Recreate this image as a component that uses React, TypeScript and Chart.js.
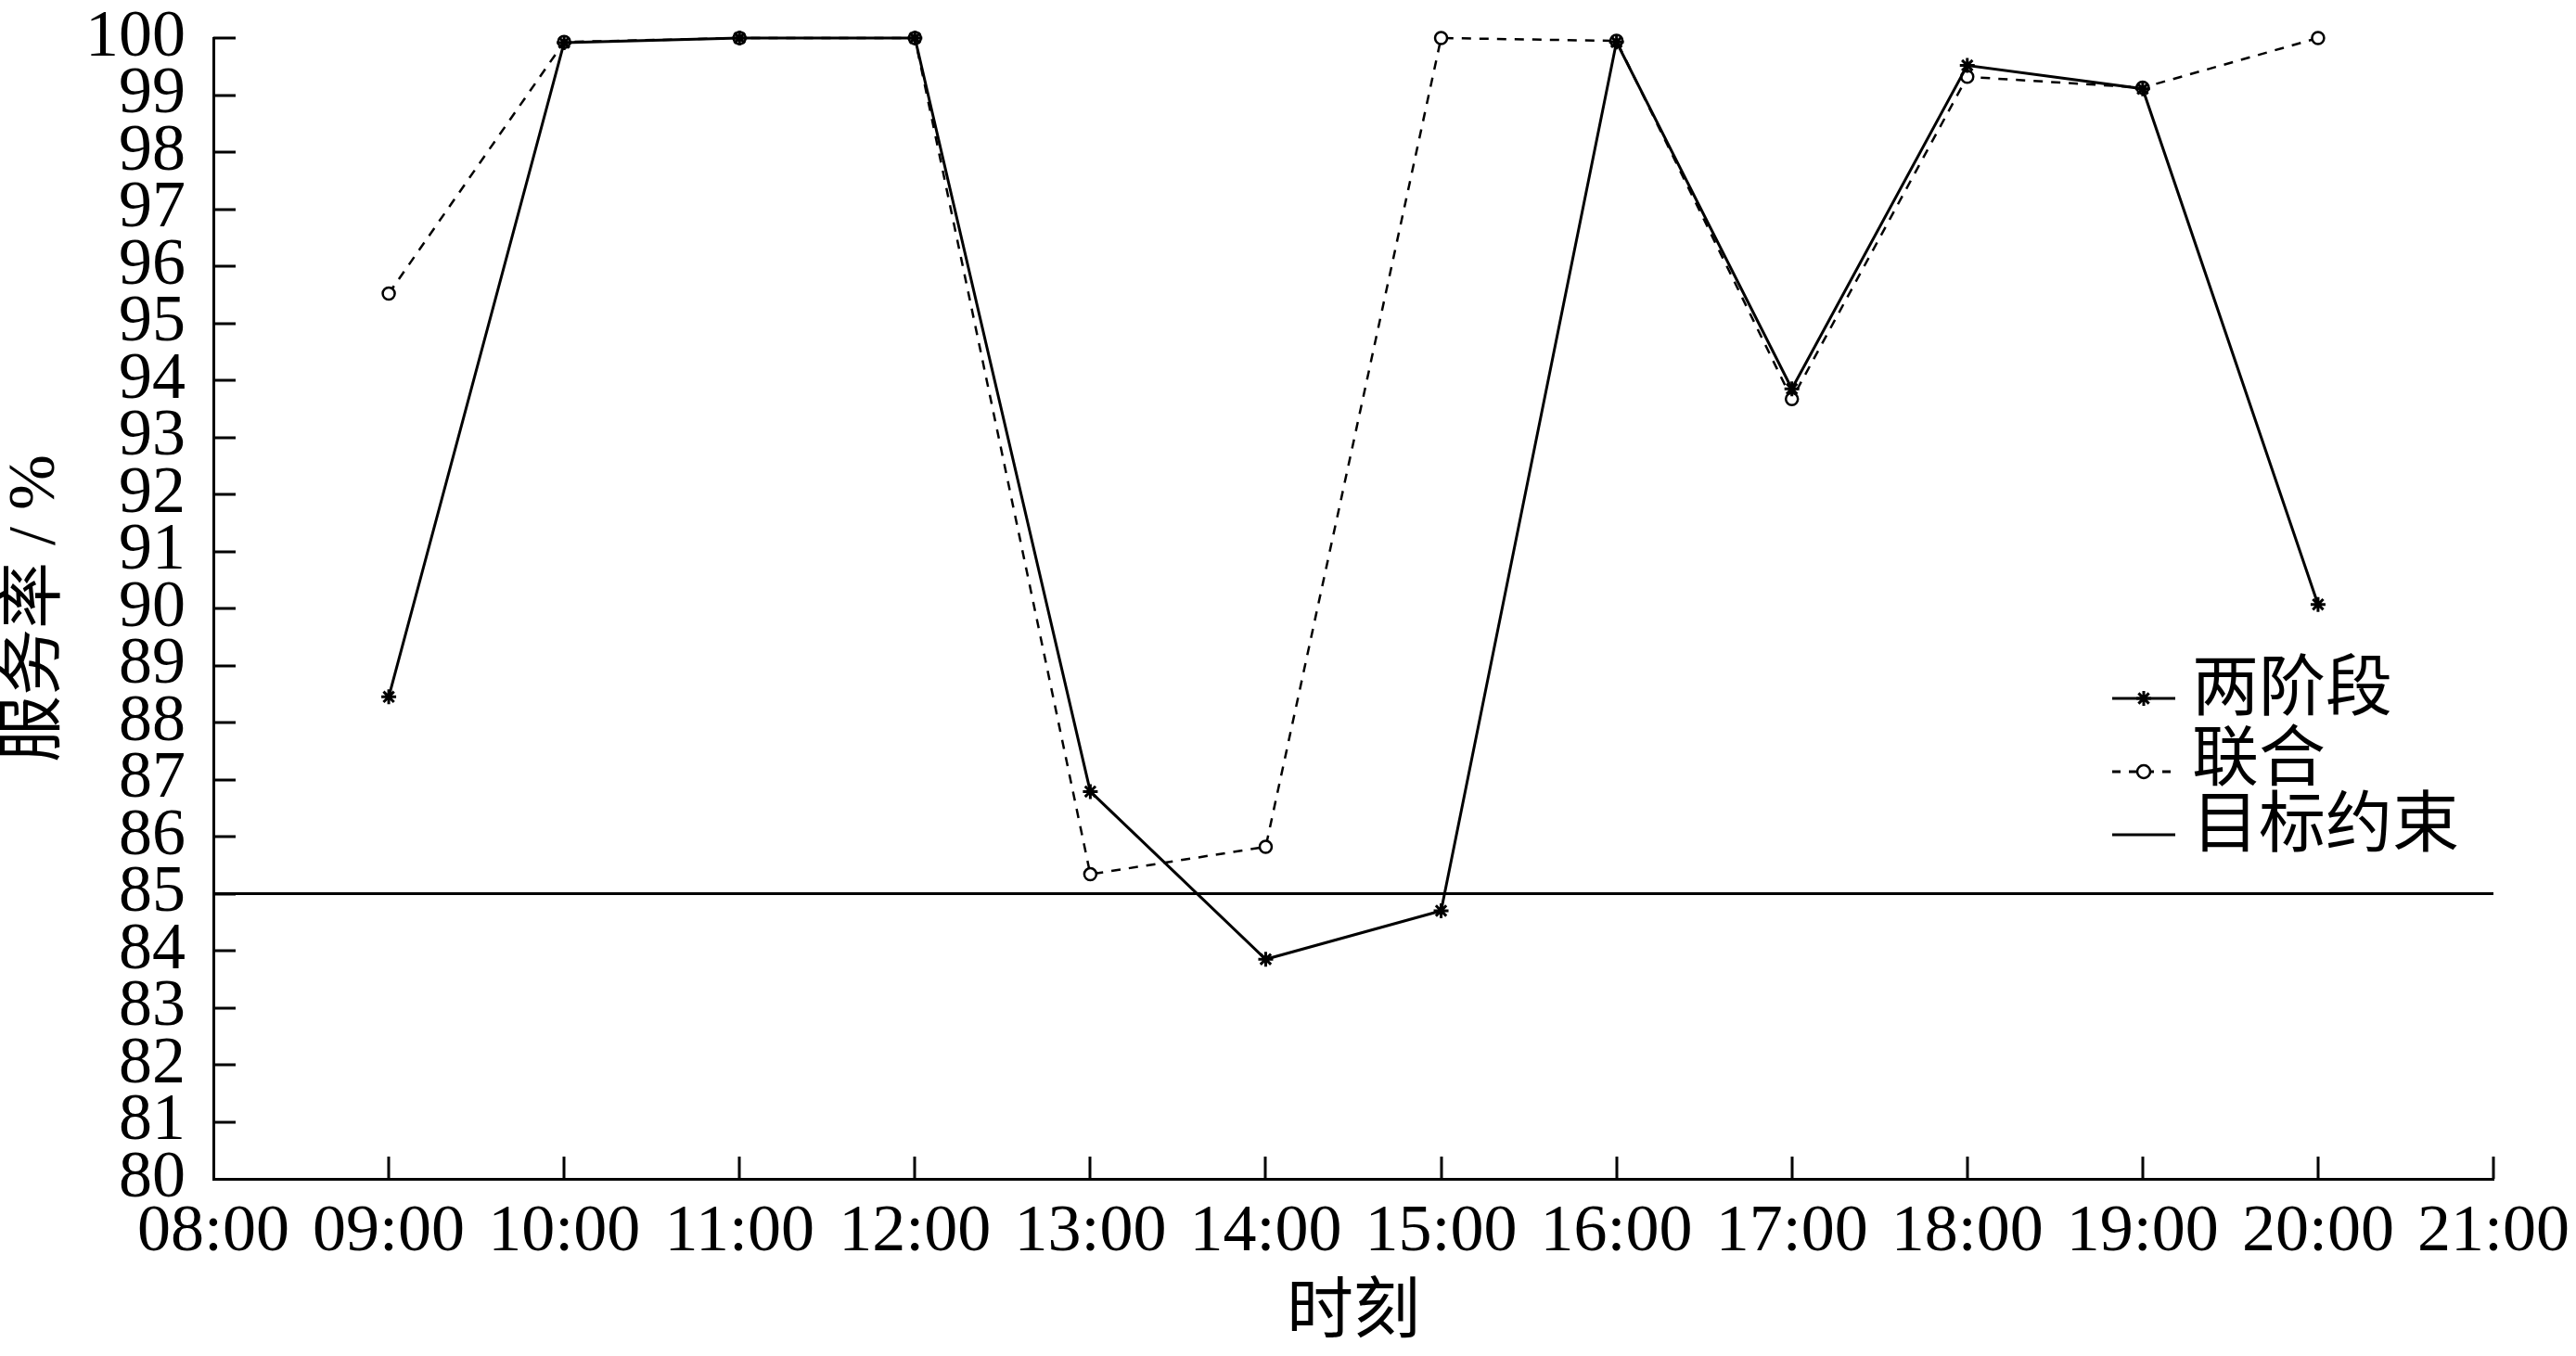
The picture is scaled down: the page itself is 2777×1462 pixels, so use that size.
import React, { useEffect, useRef } from "react";
import { Chart, registerables } from "chart.js";

Chart.register(...registerables);

// ---- data ----
const hours = [9, 10, 11, 12, 13, 14, 15, 16, 17, 18, 19, 20];
const twoStage = [88.45, 99.92, 100, 100, 86.79, 83.85, 84.7, 99.93, 93.85, 99.52, 99.11, 90.07];
const joint = [95.52, 99.93, 100, 100, 85.34, 85.82, 100, 99.95, 93.67, 99.32, 99.13, 100];
const targetHours = [8, 21];
const targetValue = 85;
const seriesNames = ["两阶段", "联合", "目标约束"];
const xTitle = "时刻";
const yTitle = "服务率 / %";
const xMin = 8;
const xMax = 21;
const yMin = 80;
const yMax = 100;

const W = 2777;
const H = 1462;
const FONT = "'Liberation Serif', 'Noto Sans CJK SC', serif";

const formatHour = (h: number) => (h < 10 ? "0" : "") + h + ":00";

const inwardTicks = {
  id: "inwardTicks",
  afterDraw(chart: any) {
    const { ctx } = chart;
    const xs = chart.scales.x;
    const ys = chart.scales.y;
    const len = 24;
    ctx.save();
    ctx.strokeStyle = "#000";
    ctx.lineWidth = 3;
    ctx.beginPath();
    xs.ticks.forEach((t: any) => {
      if (t.value === xs.min) return;
      const px = Math.round(xs.getPixelForValue(t.value));
      ctx.moveTo(px, ys.bottom);
      ctx.lineTo(px, ys.bottom - len);
    });
    ys.ticks.forEach((t: any) => {
      if (t.value === ys.min) return;
      const py = Math.round(ys.getPixelForValue(t.value));
      ctx.moveTo(xs.left, py);
      ctx.lineTo(xs.left + len, py);
    });
    ctx.stroke();
    ctx.restore();
  },
};

const drawStar = (ctx: CanvasRenderingContext2D, x: number, y: number, r: number) => {
  ctx.beginPath();
  for (let i = 0; i < 4; i++) {
    const a = (Math.PI / 4) * i;
    ctx.moveTo(x + Math.cos(a) * r, y + Math.sin(a) * r);
    ctx.lineTo(x - Math.cos(a) * r, y - Math.sin(a) * r);
  }
  ctx.stroke();
};

const customLegend = {
  id: "customLegend",
  afterDraw(chart: any) {
    const { ctx } = chart;
    const x0 = 2277;
    const x1 = 2345;
    const xm = 2311;
    const tx = 2363;
    const lineYs = [753, 832, 900];
    const textYs = [746, 822, 893];
    ctx.save();
    ctx.strokeStyle = "#000";
    ctx.fillStyle = "#000";
    ctx.lineWidth = 3;
    // row 1
    ctx.setLineDash([]);
    ctx.beginPath();
    ctx.moveTo(x0, lineYs[0]);
    ctx.lineTo(x1, lineYs[0]);
    ctx.stroke();
    drawStar(ctx, xm, lineYs[0], 8);
    // row 2
    ctx.setLineDash([9, 9]);
    ctx.beginPath();
    ctx.moveTo(x0, lineYs[1]);
    ctx.lineTo(x1, lineYs[1]);
    ctx.stroke();
    ctx.setLineDash([]);
    ctx.beginPath();
    ctx.arc(xm, lineYs[1], 7, 0, Math.PI * 2);
    ctx.fillStyle = "#fff";
    ctx.fill();
    ctx.lineWidth = 2.5;
    ctx.stroke();
    // row 3
    ctx.lineWidth = 3;
    ctx.beginPath();
    ctx.moveTo(x0, lineYs[2]);
    ctx.lineTo(x1, lineYs[2]);
    ctx.stroke();
    // text
    ctx.fillStyle = "#000";
    ctx.font = `72px ${FONT}`;
    ctx.textAlign = "left";
    ctx.textBaseline = "middle";
    seriesNames.forEach((n, i) => ctx.fillText(n, tx, textYs[i]));
    ctx.restore();
  },
};

export default function App() {
  const ref = useRef<HTMLCanvasElement | null>(null);

  useEffect(() => {
    const canvas = ref.current;
    if (!canvas) return;
    const chart = new Chart(canvas, {
      type: "line",
      data: {
        datasets: [
          {
            label: seriesNames[0],
            data: hours.map((h, i) => ({ x: h, y: twoStage[i] })),
            borderColor: "#000",
            borderWidth: 3,
            backgroundColor: "#000",
            pointStyle: "star",
            pointRadius: 8,
            pointBorderWidth: 3,
            pointBorderColor: "#000",
            tension: 0,
            clip: false,
            order: 1,
          },
          {
            label: seriesNames[1],
            data: hours.map((h, i) => ({ x: h, y: joint[i] })),
            borderColor: "#000",
            borderWidth: 2.5,
            borderDash: [10, 9],
            backgroundColor: "#fff",
            pointStyle: "circle",
            pointRadius: 6.5,
            pointBorderWidth: 2.5,
            pointBorderColor: "#000",
            pointBackgroundColor: "#fff",
            tension: 0,
            clip: false,
            order: 2,
          },
          {
            label: seriesNames[2],
            data: targetHours.map((h) => ({ x: h, y: targetValue })),
            borderColor: "#000",
            borderWidth: 3,
            pointRadius: 0,
            tension: 0,
            order: 3,
          },
        ],
      },
      options: {
        animation: false,
        responsive: false,
        devicePixelRatio: 1,
        layout: { padding: { top: 41, right: 89, left: 0, bottom: 0 } },
        plugins: {
          legend: { display: false },
          tooltip: { enabled: false },
        },
        scales: {
          x: {
            type: "linear",
            min: xMin,
            max: xMax,
            grid: { display: false, drawTicks: false },
            border: { display: true, color: "#000", width: 3 },
            ticks: {
              stepSize: 1,
              autoSkip: false,
              maxRotation: 0,
              minRotation: 0,
              padding: 22,
              color: "#000",
              font: { family: FONT, size: 72, lineHeight: 1.0 },
              callback: (v: any) => formatHour(Number(v)),
            },
            title: {
              display: true,
              text: xTitle,
              color: "#000",
              font: { family: FONT, size: 72, lineHeight: 1.2 },
              padding: { top: 0, bottom: 2 },
            },
            afterFit: (s: any) => {
              s.height = 191;
              s.paddingLeft = 0;
              s.paddingRight = 0;
            },
          },
          y: {
            type: "linear",
            min: yMin,
            max: yMax,
            grid: { display: false, drawTicks: false },
            border: { display: true, color: "#000", width: 3 },
            ticks: {
              stepSize: 1,
              autoSkip: false,
              padding: 30,
              color: "#000",
              font: { family: FONT, size: 72, lineHeight: 1.0 },
            },
            title: {
              display: true,
              text: yTitle,
              color: "#000",
              font: { family: FONT, size: 72, lineHeight: 1.0 },
              padding: { top: 3, bottom: 0 },
            },
            afterFit: (s: any) => {
              s.width = 230;
              s.paddingTop = 0;
              s.paddingBottom = 0;
            },
          },
        },
      },
      plugins: [inwardTicks, customLegend],
    });
    return () => chart.destroy();
  }, []);

  return (
    <div style={{ position: "fixed", left: 0, top: 0, width: W, height: H, background: "#fff" }}>
      <canvas ref={ref} width={W} height={H} style={{ display: "block", width: W, height: H }} />
    </div>
  );
}
